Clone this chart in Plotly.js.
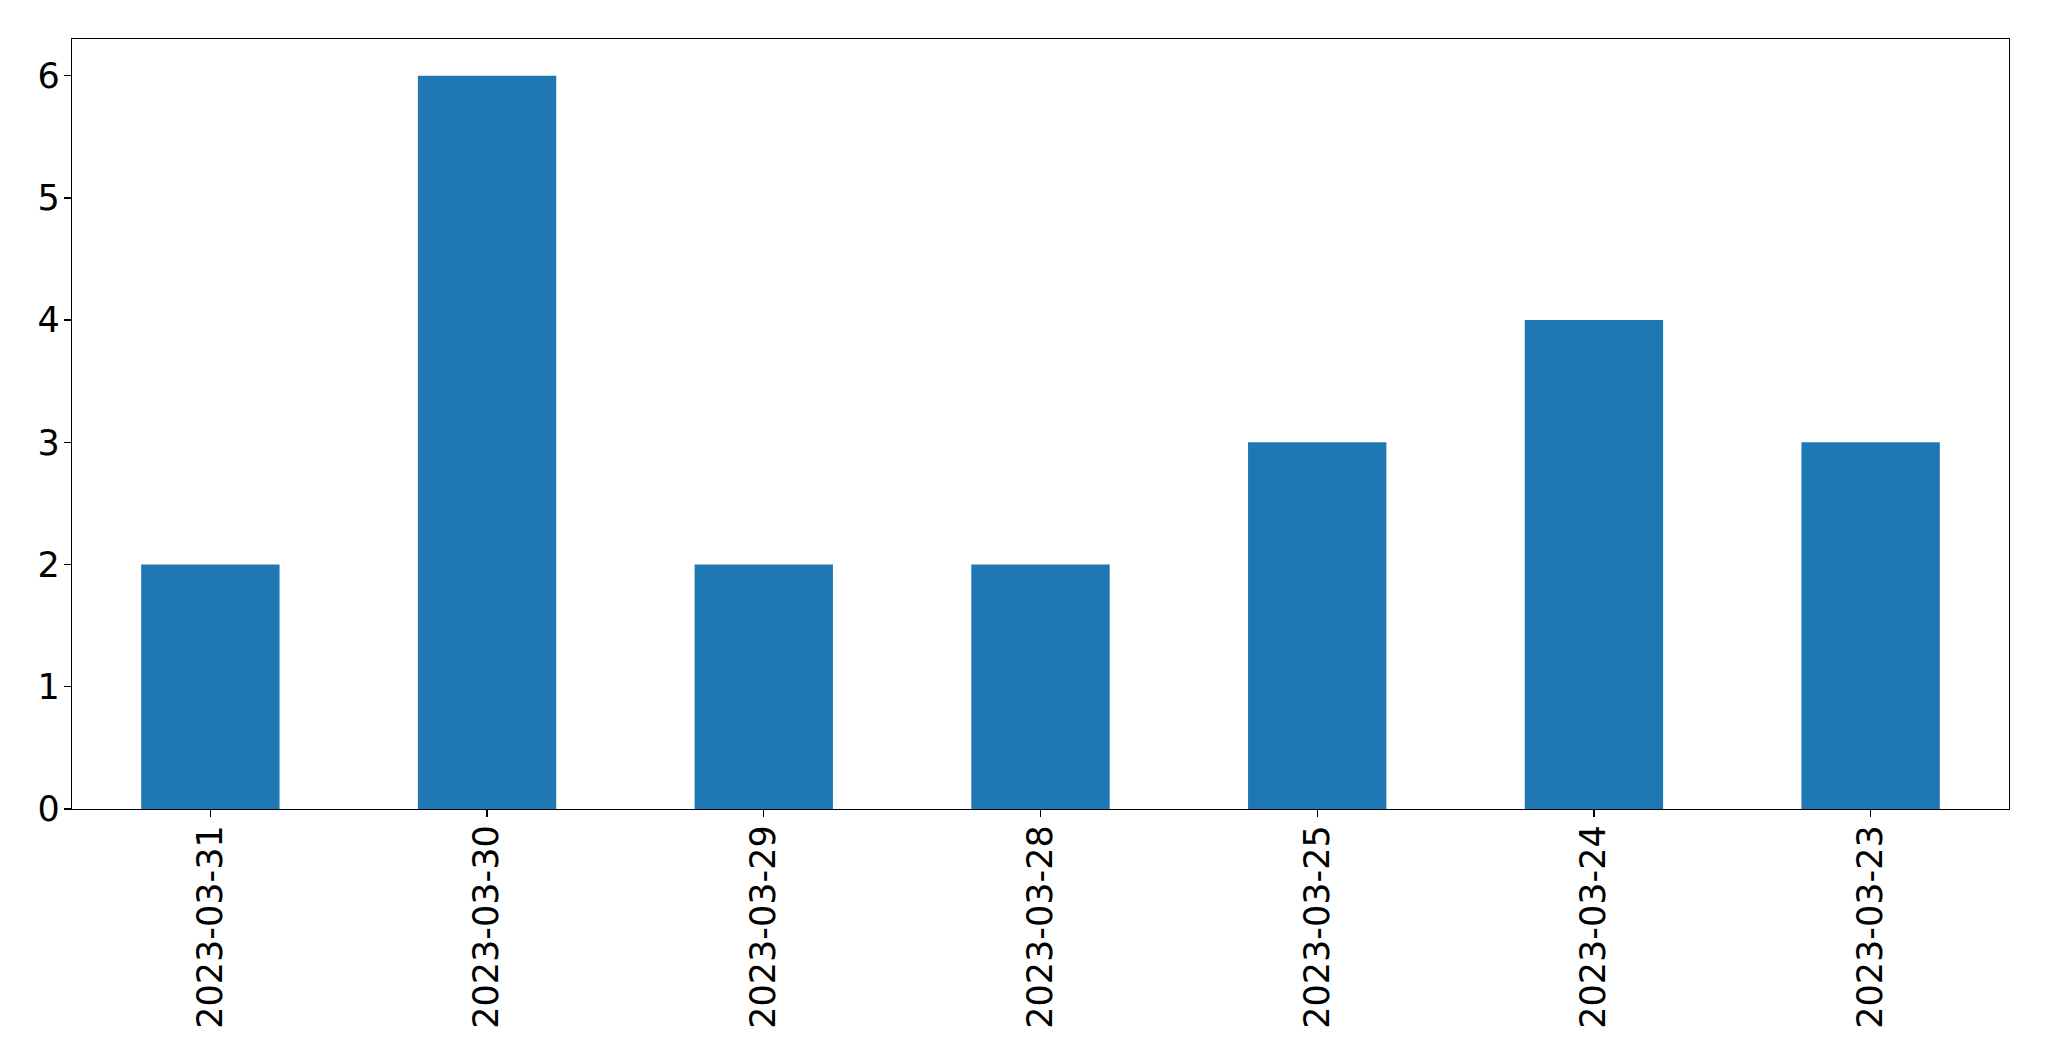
<!DOCTYPE html>
<html>
<head>
<meta charset="utf-8">
<script src="https://cdn.plot.ly/plotly-3.0.1.min.js"></script>
<style>html,body{margin:0;padding:0;background:#fff;}#chart{width:2049px;height:1061px;}</style>
</head>
<body>
<div id="chart"></div>
<script>
const categories = ["2023-03-31","2023-03-30","2023-03-29","2023-03-28","2023-03-25","2023-03-24","2023-03-23"];
const counts = [2, 6, 2, 2, 3, 4, 3];
const yTicks = [0, 1, 2, 3, 4, 5, 6];

const trace = {
  type: 'bar',
  x: categories,
  y: counts,
  width: 0.5,
  marker: {color: '#1f77b4', line: {width: 0}},
  hoverinfo: 'x+y'
};

const font = {family: 'DejaVu Sans, sans-serif', size: 35, color: '#000'};

const layout = {
  width: 2049,
  height: 1061,
  margin: {l: 72, r: 40, t: 39, b: 252},
  paper_bgcolor: '#fff',
  plot_bgcolor: '#fff',
  showlegend: false,
  font: font,
  xaxis: {
    type: 'category',
    range: [-0.5, 6.5],
    tickangle: -90,
    ticks: 'outside',
    ticklen: 7,
    tickwidth: 1.3,
    tickcolor: '#000',
    showline: true,
    linecolor: '#000',
    linewidth: 1.3,
    mirror: true,
    showgrid: false,
    zeroline: false,
    tickfont: font,
    ticklabelstandoff: -6
  },
  yaxis: {
    range: [0, 6.3],
    tickvals: yTicks,
    ticktext: yTicks.map(String),
    ticks: 'outside',
    ticklen: 7,
    tickwidth: 1.3,
    tickcolor: '#000',
    showline: true,
    linecolor: '#000',
    linewidth: 1.3,
    mirror: true,
    showgrid: false,
    zeroline: false,
    tickfont: font,
    ticklabelstandoff: -3
  }
};

Plotly.newPlot('chart', [trace], layout, {displayModeBar: false, staticPlot: true});
</script>
</body>
</html>
